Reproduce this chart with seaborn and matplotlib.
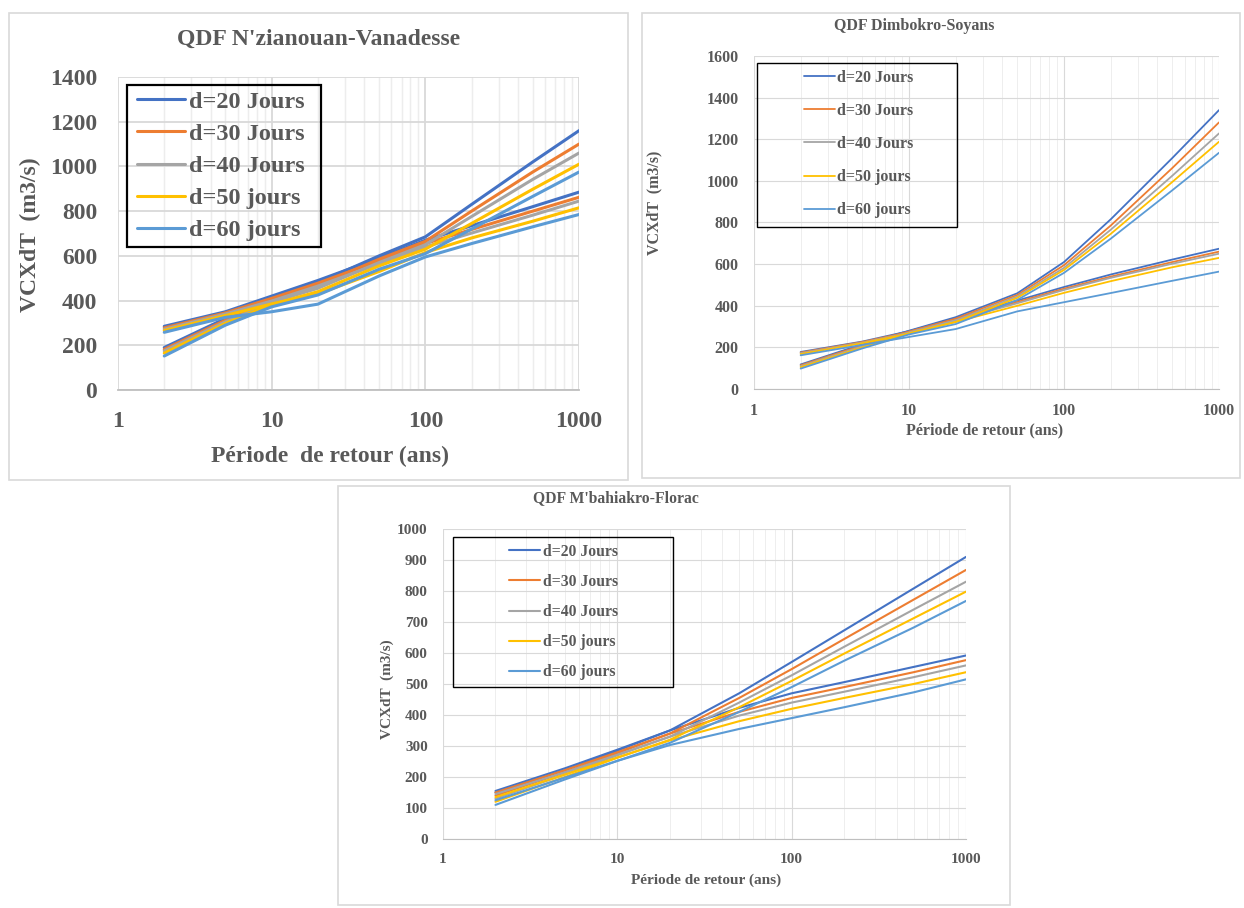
import matplotlib
matplotlib.use("Agg")
import matplotlib.pyplot as plt
import seaborn as sns
import pandas as pd
from matplotlib.lines import Line2D
from matplotlib.patches import Rectangle
from matplotlib.ticker import FixedLocator, LogLocator, NullFormatter

# return periods (ans)
T = [2, 5, 10, 20, 50, 100, 200, 500, 1000]
durees = ["d=20 Jours", "d=30 Jours", "d=40 Jours", "d=50 jours", "d=60 jours"]
couleurs = ["#4472C4", "#ED7D31", "#A5A5A5", "#FFC000", "#5B9BD5"]

# N'zianouan-Vanadesse : loi 1 (start high, flatter) / loi 2 (start low, steep)
nz_loi1 = [
    [285, 350, 420, 490, 590, 670, 735, 820, 885],
    [278, 345, 410, 478, 578, 655, 718, 800, 862],
    [272, 340, 398, 465, 565, 640, 702, 782, 845],
    [266, 333, 385, 430, 530, 615, 680, 755, 815],
    [258, 325, 350, 384, 510, 595, 655, 730, 785],
]
nz_loi2 = [
    [190, 320, 410, 480, 600, 685, 830, 1020, 1160],
    [182, 312, 400, 468, 585, 665, 800, 975, 1100],
    [175, 305, 392, 455, 570, 650, 776, 942, 1060],
    [165, 298, 382, 440, 555, 630, 745, 898, 1010],
    [152, 290, 372, 425, 540, 610, 720, 866, 975],
]

# Dimbokro-Soyans
di_loi1 = [
    [178, 228, 278, 340, 425, 490, 550, 622, 674],
    [175, 226, 274, 335, 418, 482, 540, 610, 660],
    [172, 223, 270, 330, 412, 476, 534, 602, 650],
    [168, 220, 266, 322, 400, 462, 518, 585, 630],
    [162, 212, 250, 288, 373, 417, 461, 520, 564],
]
di_loi2 = [
    [118, 215, 280, 345, 460, 610, 815, 1110, 1340],
    [114, 210, 276, 338, 452, 595, 785, 1062, 1281],
    [110, 205, 272, 330, 445, 582, 765, 1025, 1228],
    [105, 200, 268, 322, 438, 572, 745, 995, 1188],
    [98, 195, 262, 312, 428, 558, 722, 955, 1135],
]

# M'bahiakro-Florac
mb_loi1 = [
    [155, 228, 288, 350, 423, 470, 506, 555, 592],
    [150, 222, 280, 340, 410, 455, 490, 538, 577],
    [145, 215, 272, 330, 398, 440, 475, 522, 560],
    [135, 208, 263, 318, 380, 420, 455, 500, 538],
    [125, 198, 252, 303, 355, 390, 425, 473, 515],
]
mb_loi2 = [
    [150, 222, 285, 350, 470, 571, 673, 808, 910],
    [140, 215, 277, 340, 455, 548, 645, 772, 868],
    [130, 208, 270, 330, 440, 528, 620, 740, 830],
    [120, 200, 262, 320, 425, 510, 598, 712, 798],
    [110, 192, 252, 310, 410, 490, 575, 682, 768],
]

sns.set_style("white")
plt.rcParams["font.family"] = ["Liberation Serif", "DejaVu Serif"]
plt.rcParams["font.weight"] = "bold"
GRIS = "#595959"

W, H = 1244, 908
fig = plt.figure(figsize=(W / 100, H / 100), dpi=100)


def fx(x):
    return x / W


def fy(y):
    return 1 - y / H


def to_df(loi1, loi2):
    rows = []
    for loi, serie in (("loi1", loi1), ("loi2", loi2)):
        for lab, vals in zip(durees, serie):
            for t, v in zip(T, vals):
                rows.append({"T": t, "V": v, "d": lab, "loi": loi})
    return pd.DataFrame(rows)


def panneau(p):
    l, t, r, b = p["axes"]
    ax = fig.add_axes([fx(l), fy(b), fx(r - l), (b - t) / H])
    df = to_df(p["loi1"], p["loi2"])
    sns.lineplot(data=df, x="T", y="V", hue="d", units="loi", estimator=None,
                 sort=False, palette=dict(zip(durees, couleurs)),
                 linewidth=p["lw"], legend=False, ax=ax)
    ax.set_xscale("log")
    ax.set_xlim(1, 1000)
    ax.set_ylim(0, p["ymax"])
    ax.xaxis.set_major_locator(FixedLocator([1, 10, 100, 1000]))
    ax.set_xticklabels(["1", "10", "100", "1000"])
    ax.xaxis.set_minor_locator(LogLocator(base=10, subs=range(2, 10)))
    ax.xaxis.set_minor_formatter(NullFormatter())
    ax.set_yticks(range(0, p["ymax"] + 1, p["ystep"]))
    ax.set_xlabel("")
    ax.set_ylabel("")
    for s in ("top", "right", "left"):
        ax.spines[s].set_visible(False)
    ax.spines["bottom"].set_color("#BFBFBF")
    ax.spines["bottom"].set_linewidth(p["glw"])
    ax.grid(which="major", color="#D9D9D9", linewidth=p["glw"])
    ax.grid(which="minor", axis="x", color="#EDEDED", linewidth=p["glw"] * 0.8)
    ax.set_axisbelow(True)
    ax.tick_params(axis="both", which="major", labelsize=p["fs"], labelcolor=GRIS,
                   color="#BFBFBF", length=4, width=p["glw"])
    ax.tick_params(axis="x", which="major", pad=p["xpad"])
    ax.tick_params(axis="y", which="major", pad=p["ypad"])
    ax.tick_params(axis="x", which="minor", length=0)
    for lab in ax.get_xticklabels() + ax.get_yticklabels():
        lab.set_fontweight("bold")

    # chart area border
    fl, ft, fr, fb = p["frame"]
    fig.add_artist(Rectangle((fx(fl), fy(fb)), fx(fr - fl), (fb - ft) / H,
                             transform=fig.transFigure, fill=False,
                             ec="#D9D9D9", lw=1.2))
    # texts
    fig.text(fx(p["title"][0]), fy(p["title"][1]), p["titre"], ha="center",
             va="center", fontsize=p["fs_t"], color=GRIS, fontweight="bold")
    fig.text(fx(p["xlab"][0]), fy(p["xlab"][1]), p["xlabel"], ha="center",
             va="center", fontsize=p["fs"], color=GRIS, fontweight="bold")
    fig.text(fx(p["ylab"][0]), fy(p["ylab"][1]), "VCXdT  (m3/s)", ha="center",
             va="center", rotation=90, fontsize=p["fs"], color=GRIS,
             fontweight="bold")
    # legend
    handles = [Line2D([], [], color=c, lw=p["lw"]) for c in couleurs]
    hx, hy = p["leg_anchor"]
    ax.legend(handles, durees, loc="center left",
              bbox_to_anchor=(fx(hx), fy(hy)), bbox_transform=fig.transFigure,
              frameon=False, borderpad=0, borderaxespad=0,
              handlelength=p["hl"], handletextpad=p["htp"],
              labelspacing=p["ls"], prop={"size": p["fs_l"], "weight": "bold"},
              labelcolor=GRIS)
    bl, bt, br, bb = p["leg_box"]
    fig.add_artist(Rectangle((fx(bl), fy(bb)), fx(br - bl), (bb - bt) / H,
                             transform=fig.transFigure, fill=False,
                             ec="black", lw=p["leg_lw"]))


panneau(dict(
    loi1=nz_loi1, loi2=nz_loi2, axes=(118, 77, 579, 390), ymax=1400, ystep=200,
    lw=2.2, glw=1.3, fs=17, fs_t=17, fs_l=17.5, xpad=11, ypad=11,
    frame=(9, 13, 628, 480), titre="QDF N'zianouan-Vanadesse", title=(319, 39),
    xlabel="Période  de retour (ans)", xlab=(330, 456), ylab=(30, 235),
    leg_anchor=(136.5, 166), hl=2.0, htp=0.15, ls=0.42,
    leg_box=(126.5, 85, 321, 247), leg_lw=1.6,
))
panneau(dict(
    loi1=di_loi1, loi2=di_loi2, axes=(754, 56, 1219, 389), ymax=1600, ystep=200,
    lw=1.3, glw=0.8, fs=11.5, fs_t=11.5, fs_l=11.5, xpad=6, ypad=7,
    frame=(642, 13, 1240, 478), titre="QDF Dimbokro-Soyans", title=(914, 26),
    xlabel="Période de retour (ans)", xlab=(985, 430), ylab=(654, 203),
    leg_anchor=(804, 144), hl=1.95, htp=0.1, ls=1.08,
    leg_box=(757, 63, 957, 227), leg_lw=1.0,
))
panneau(dict(
    loi1=mb_loi1, loi2=mb_loi2, axes=(443, 529, 966, 839), ymax=1000, ystep=100,
    lw=1.5, glw=0.8, fs=11, fs_t=11.3, fs_l=11.3, xpad=6, ypad=7,
    frame=(338, 486, 1010, 905), titre="QDF M'bahiakro-Florac", title=(616, 498),
    xlabel="Période de retour (ans)", xlab=(706, 880), ylab=(387, 689),
    leg_anchor=(508.5, 612), hl=1.98, htp=0.2, ls=0.9,
    leg_box=(453, 537, 673, 687), leg_lw=1.0,
))

fig.savefig("out.png", dpi=100, facecolor="white")
